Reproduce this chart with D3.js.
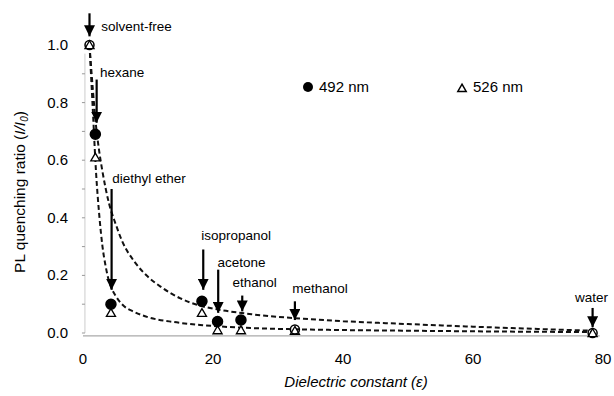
<!DOCTYPE html>
<html>
<head>
<meta charset="utf-8">
<script src="https://cdn.jsdelivr.net/npm/d3@7"></script>
<style>
  body { margin: 0; background: #fff; }
  text { font-family: "Liberation Sans", Arial, sans-serif; }
</style>
</head>
<body>
<div class="container"></div>
<script>
// solvents and their dielectric constants
const solvents = ["solvent-free", "hexane", "diethyl ether", "isopropanol", "acetone", "ethanol", "methanol", "water"]
const epsilon = [1, 1.9, 4.3, 18.3, 20.7, 24.3, 32.6, 78.4]
const q492 = [1.0, 0.69, 0.10, 0.11, 0.04, 0.045, 0.012, 0.0]
const q526 = [1.0, 0.61, 0.07, 0.07, 0.01, 0.01, 0.008, 0.0]

// dashed fit curves
const fitUpperX = [1, 1.5, 2, 2.5, 3, 4, 5, 6, 8, 10, 12, 15, 18, 22, 26, 30, 35, 40, 50, 60, 70, 78.4]
const fitUpperY = [1.0, 0.85, 0.72, 0.63, 0.56, 0.45, 0.38, 0.32, 0.245, 0.195, 0.16, 0.12, 0.095, 0.077, 0.065, 0.056, 0.048, 0.041, 0.031, 0.022, 0.014, 0.008]
const fitLowerX = [1, 1.5, 2, 2.5, 3, 3.5, 4, 5, 6, 8, 10, 14, 18, 25, 35, 50, 65, 78.4]
const fitLowerY = [1.0, 0.78, 0.56, 0.41, 0.30, 0.23, 0.18, 0.13, 0.10, 0.072, 0.055, 0.038, 0.028, 0.018, 0.012, 0.008, 0.005, 0.003]

// annotation arrows: epsilon, arrow top, arrow tip (data units)
const arrowEps = [1, 2.1, 4.4, 18.5, 20.8, 24.5, 32.6, 78.4]
const arrowTop = [1.11, 0.88, 0.50, 0.29, 0.22, 0.13, 0.11, 0.087]
const arrowTip = [1.03, 0.73, 0.15, 0.15, 0.07, 0.075, 0.045, 0.02]
const labelX = [2.8, 2.6, 4.5, 18.2, 20.7, 23, 32.2, 75.7]
const labelY = [1.05, 0.89, 0.52, 0.322, 0.229, 0.16, 0.139, 0.108]

const xTicks = [0, 20, 40, 60, 80]
const yTicks = [0.0, 0.2, 0.4, 0.6, 0.8, 1.0]

let outerWidth = 614
let outerHeight = 396

const svg = d3.select(".container")
    .append("svg")
    .attr("width", outerWidth)
    .attr("height", outerHeight)

const x = d3.scaleLinear().domain([0, 80]).range([83, 603])
const y = d3.scaleLinear().domain([0, 1]).range([333, 45])

// faint axes
svg.append("line")
    .attr("x1", x(0)).attr("x2", x(79.5))
    .attr("y1", y(-0.01)).attr("y2", y(-0.01))
    .attr("stroke", "#aaa").attr("stroke-width", 1.2)
svg.append("line")
    .attr("x1", x(0.3)).attr("x2", x(0.3))
    .attr("y1", y(0)).attr("y2", y(0.97))
    .attr("stroke", "#ccc").attr("stroke-width", 1)
svg.selectAll(".ytick")
    .data(d3.range(0, 1, 0.1))
    .join("line")
    .attr("x1", x(0.3)).attr("x2", x(0.3) - 3)
    .attr("y1", d => y(d)).attr("y2", d => y(d))
    .attr("stroke", "#999")

// tick labels
svg.selectAll(".xlab")
    .data(xTicks)
    .join("text")
    .attr("x", d => x(d))
    .attr("y", 364)
    .attr("text-anchor", "middle")
    .attr("font-size", 15)
    .text(d => d)

svg.selectAll(".ylab")
    .data(yTicks)
    .join("text")
    .attr("x", 68)
    .attr("y", d => y(d) + 5)
    .attr("text-anchor", "end")
    .attr("font-size", 15)
    .text(d => d.toFixed(1))

// axis titles
svg.append("text")
    .attr("x", 356).attr("y", 387)
    .attr("text-anchor", "middle")
    .attr("font-size", 15)
    .attr("font-style", "italic")
    .text("Dielectric constant (ε)")

const yTitle = svg.append("text")
    .attr("transform", "translate(25, 192) rotate(-90)")
    .attr("text-anchor", "middle")
    .attr("font-size", 15.5)
yTitle.append("tspan").text("PL quenching ratio (")
yTitle.append("tspan").attr("font-style", "italic").text("I/I")
yTitle.append("tspan").attr("font-style", "italic").attr("font-size", 10).attr("dy", 3).text("0")
yTitle.append("tspan").attr("dy", -3).text(")")

// dashed fit curves
const line = d3.line()
    .x(d => x(d[0]))
    .y(d => y(d[1]))
    .curve(d3.curveMonotoneX)

svg.append("path")
    .datum(d3.zip(fitUpperX, fitUpperY))
    .attr("d", line)
    .attr("fill", "none")
    .attr("stroke", "#111")
    .attr("stroke-width", 2)
    .attr("stroke-dasharray", "5,3")

svg.append("path")
    .datum(d3.zip(fitLowerX, fitLowerY))
    .attr("d", line)
    .attr("fill", "none")
    .attr("stroke", "#111")
    .attr("stroke-width", 2)
    .attr("stroke-dasharray", "5,3")

// arrowhead
svg.append("defs").append("marker")
    .attr("id", "head")
    .attr("viewBox", "0 0 10 10")
    .attr("refX", 10).attr("refY", 5)
    .attr("markerWidth", 5).attr("markerHeight", 5)
    .attr("markerUnits", "strokeWidth")
    .attr("orient", "auto")
    .append("path")
    .attr("d", "M0,0 L10,5 L0,10 Z")
    .attr("fill", "#000")

svg.selectAll(".arrow")
    .data(arrowEps)
    .join("line")
    .attr("x1", d => x(d)).attr("x2", d => x(d))
    .attr("y1", (d, i) => y(arrowTop[i]))
    .attr("y2", (d, i) => y(arrowTip[i]))
    .attr("stroke", "#000")
    .attr("stroke-width", 2.2)
    .attr("marker-end", "url(#head)")

svg.selectAll(".solvent")
    .data(solvents)
    .join("text")
    .attr("x", (d, i) => x(labelX[i]))
    .attr("y", (d, i) => y(labelY[i]))
    .attr("font-size", 13.5)
    .text(d => d)

// markers: triangles (526 nm) then circles (492 nm)
const tri = d3.symbol().type(d3.symbolTriangle).size(36)

svg.selectAll(".tri")
    .data(epsilon)
    .join("path")
    .attr("d", tri)
    .attr("transform", (d, i) => `translate(${x(d)}, ${y(q526[i]) + 1})`)
    .attr("fill", "#fff")
    .attr("stroke", "#000")
    .attr("stroke-width", 1.3)

svg.selectAll(".dot")
    .data(epsilon)
    .join("circle")
    .attr("cx", d => x(d))
    .attr("cy", (d, i) => y(q492[i]))
    .attr("r", (d, i) => (i === 0 || i >= 6) ? 4.5 : 5)
    .attr("fill", (d, i) => (i === 0 || i >= 6) ? "none" : "#000")
    .attr("stroke", "#000")
    .attr("stroke-width", 1.5)

// legend
svg.append("circle")
    .attr("cx", 308).attr("cy", 87).attr("r", 5)
    .attr("fill", "#000")
svg.append("text")
    .attr("x", 319).attr("y", 92)
    .attr("font-size", 15)
    .text("492 nm")

svg.append("path")
    .attr("d", d3.symbol().type(d3.symbolTriangle).size(30))
    .attr("transform", "translate(462, 89)")
    .attr("fill", "#fff")
    .attr("stroke", "#000")
    .attr("stroke-width", 1.5)
svg.append("text")
    .attr("x", 473).attr("y", 92)
    .attr("font-size", 15)
    .text("526 nm")
</script>
</body>
</html>
